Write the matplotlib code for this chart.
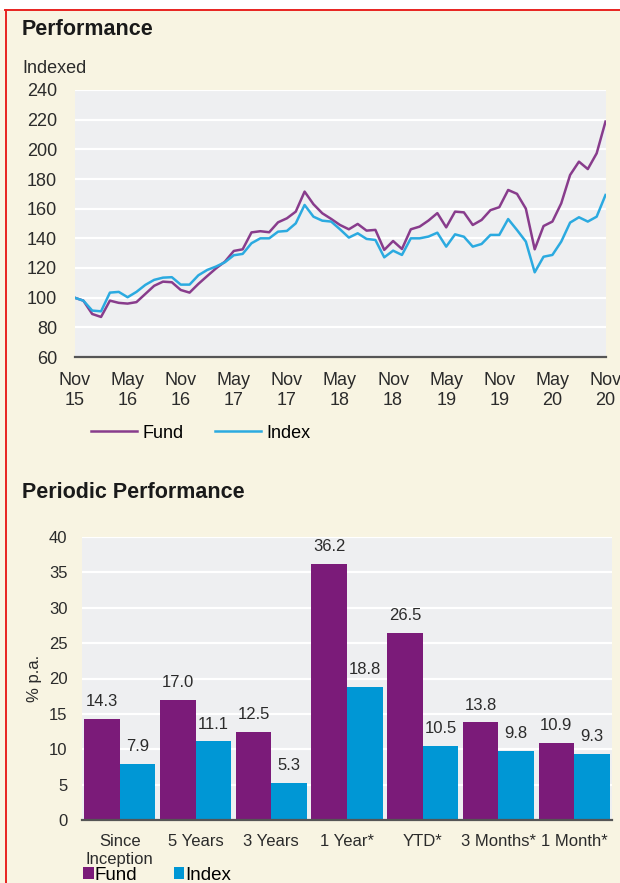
import numpy as np
import matplotlib.pyplot as plt
from matplotlib.patches import Rectangle
from matplotlib.lines import Line2D

plt.rcParams['font.family'] = ['Liberation Sans', 'DejaVu Sans']

# ---------------------------------------------------------------------------
# Data
# ---------------------------------------------------------------------------

# monthly index levels, Nov 15 .. Nov 20 (61 months)
fund = [100, 98, 89, 87, 98, 96.5, 96, 97, 102.5, 108, 110.8, 110.4, 105.2,
        103.4, 109.3, 114.6, 119.8, 124.3, 131.5, 132.6, 144, 144.8, 144.1,
        150.8, 153.5, 158, 171.5, 163, 156.9, 153.1, 149, 146.1, 149.7, 145.2,
        145.7, 132.2, 138.2, 132.8, 146.1, 147.9, 152, 157, 147.4, 158, 157.5,
        149, 152.4, 159, 161, 172.6, 170, 160, 132.6, 148.3, 151.3, 163.6,
        182.7, 191.7, 186.7, 197.3, 218.7]
index = [100, 98, 91.3, 90.8, 103.4, 103.9, 100.3, 103.9, 108.6, 112, 113.5,
         113.8, 108.8, 108.8, 115.1, 118.7, 121, 123.9, 128.6, 129.5, 136.7,
         140, 140, 144.5, 145, 150.1, 162.5, 154.6, 151.9, 151.3, 146.1, 140.5,
         143.4, 139.6, 138.9, 127.2, 131.7, 128.8, 140, 140, 141.2, 143.8,
         134.4, 142.7, 141.1, 134.4, 136.2, 142.3, 142.3, 153, 145.6, 137.8,
         117.1, 127.6, 128.8, 137.8, 150.6, 154.2, 151.3, 154.6, 169.2]
date_labels = ["Nov\n15", "May\n16", "Nov\n16", "May\n17", "Nov\n17", "May\n18",
               "Nov\n18", "May\n19", "Nov\n19", "May\n20", "Nov\n20"]

periods = ["Since\nInception", "5 Years", "3 Years", "1 Year*", "YTD*",
           "3 Months*", "1 Month*"]
fund_pa = [14.3, 17.0, 12.5, 36.2, 26.5, 13.8, 10.9]
index_pa = [7.9, 11.1, 5.3, 18.8, 10.5, 9.8, 9.3]

# ---------------------------------------------------------------------------
# Style
# ---------------------------------------------------------------------------

CREAM = "#F8F4E2"
PANEL = "#EEEFF1"
FUND_LINE = "#883C8C"
INDEX_LINE = "#2BAAE0"
FUND_BAR = "#7B1B79"
INDEX_BAR = "#0097D5"
TXT = "#2B2B2B"
W, H = 620, 883

fig = plt.figure(figsize=(6.2, 8.83), dpi=100)
fig.patch.set_facecolor(CREAM)

# white strip above the red frame
fig.patches.append(Rectangle((0, 1 - 10 / H), 1, 10 / H, transform=fig.transFigure,
                             facecolor="white", edgecolor="none", zorder=0))
fig.add_artist(Line2D([5 / W, 1], [1 - 10 / H] * 2, color="#E8231F", lw=1.4))
fig.add_artist(Line2D([6 / W] * 2, [0, 1 - 10 / H], color="#E8231F", lw=1.4))


def style_axes(ax, size):
    ax.set_facecolor(PANEL)
    for side in ("top", "right", "left"):
        ax.spines[side].set_visible(False)
    ax.spines["bottom"].set_color("#555555")
    ax.spines["bottom"].set_linewidth(1.6)
    ax.grid(axis="y", color="white", lw=1.6)
    ax.set_axisbelow(True)
    ax.tick_params(length=0, colors=TXT, labelsize=size)


# ── Performance line chart ───────────────────────────────────────────────
ax1 = fig.add_axes([74.5 / W, 1 - 357 / H, 531 / W, 267 / H])
style_axes(ax1, 13)
months = np.arange(len(fund))
ax1.plot(months, fund, color=FUND_LINE, lw=1.8, label="Fund")
ax1.plot(months, index, color=INDEX_LINE, lw=1.8, label="Index")
ax1.set_xlim(0, 60)
ax1.set_ylim(60, 240)
ax1.set_yticks(np.arange(60, 241, 20))
ax1.set_xticks(np.arange(0, 61, 6))
ax1.set_xticklabels(date_labels, linespacing=1.2)
ax1.tick_params(axis="y", pad=12.5)
ax1.tick_params(axis="x", pad=11)
for lab in ax1.get_xticklabels():
    lab.set_clip_on(False)

fig.text(22 / W, 1 - 29.5 / H, "Performance", fontsize=15.5, fontweight="bold",
         color="#1A1A1A", va="center")
fig.text(22 / W, 1 - 68.5 / H, "Indexed", fontsize=13, color=TXT, va="center")
ax1.legend(loc="center left", bbox_to_anchor=(82 / W, 1 - 433 / H),
           bbox_transform=fig.transFigure, ncol=2, frameon=False, borderpad=0,
           fontsize=13, handlelength=2.55, handletextpad=0.28, columnspacing=1.75)

# ── Periodic performance bars ────────────────────────────────────────────
ax2 = fig.add_axes([82 / W, 1 - 820 / H, 530 / W, 283 / H])
style_axes(ax2, 12)
x = np.arange(len(periods))
w = 0.47
b1 = ax2.bar(x - w / 2, fund_pa, w, color=FUND_BAR, label="Fund")
b2 = ax2.bar(x + w / 2, index_pa, w, color=INDEX_BAR, label="Index")
for bars, vals in ((b1, fund_pa), (b2, index_pa)):
    for rect, v in zip(bars, vals):
        ax2.annotate(f"{v:.1f}", (rect.get_x() + rect.get_width() / 2, v),
                     xytext=(0, 7), textcoords="offset points",
                     ha="center", va="bottom", fontsize=12, color=TXT)
ax2.set_xlim(-0.5, 6.5)
ax2.set_ylim(0, 40)
ax2.set_yticks(np.arange(0, 41, 5))
ax2.set_xticks(x)
ax2.set_xticklabels(periods, linespacing=1.25)
ax2.tick_params(axis="y", pad=10.5)
ax2.tick_params(axis="x", pad=10)
ax2.set_ylabel("% p.a.", fontsize=12, color=TXT, labelpad=5)

fig.text(22 / W, 1 - 493 / H, "Periodic Performance", fontsize=15.5,
         fontweight="bold", color="#1A1A1A", va="center")
ax2.legend(loc="center left", bbox_to_anchor=(74 / W, 1 - 875 / H),
           bbox_transform=fig.transFigure, ncol=2, frameon=False, borderpad=0,
           fontsize=13.5, handlelength=0.55, handleheight=0.55,
           handletextpad=0.05, columnspacing=1.95)

fig.savefig("out.png", dpi=100, facecolor=fig.get_facecolor())
